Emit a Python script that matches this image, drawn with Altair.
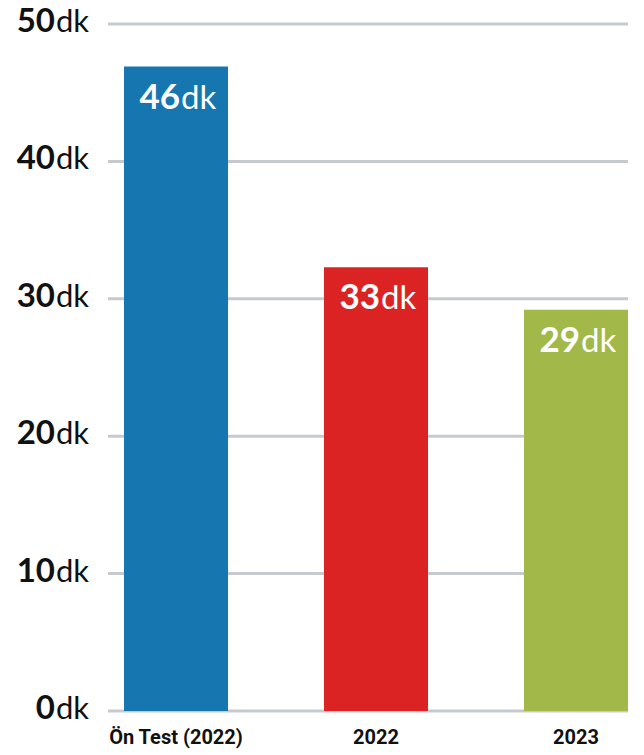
import altair as alt
import pandas as pd

categories = ["Ön Test (2022)", "2022", "2023"]
values = [46.9, 32.3, 29.2]
labels = ["46", "33", "29"]
colors = ["#1576b0", "#dc2324", "#a2b94a"]
ticks = [0, 10, 20, 30, 40, 50]
unit = "dk"

df = pd.DataFrame({"cat": categories, "val": values, "lab": labels, "color": colors, "unit": [unit] * 3})
tick_df = pd.DataFrame({"t": ticks, "num": [str(t) for t in ticks], "unit": [unit] * len(ticks)})

W, H = 504, 687
yscale = alt.Scale(domain=[0, 50], nice=False)
xenc = alt.X("cat:N", sort=categories,
             scale=alt.Scale(paddingInner=0.48, paddingOuter=0),
             axis=alt.Axis(title=None, labelAngle=0, domain=False, ticks=False, grid=False,
                           labelFont="Roboto", labelFontWeight="bold", labelFontSize=20,
                           labelColor="#111111", labelPadding=16))

grid = alt.Chart(tick_df).mark_rule(color="#c6cacf", strokeWidth=3).encode(
    y=alt.Y("t:Q", scale=yscale, axis=None),
    x=alt.value(-16), x2=alt.value(W))

bars = alt.Chart(df).mark_bar().encode(
    x=xenc,
    y=alt.Y("val:Q", scale=yscale, axis=None),
    color=alt.Color("color:N", scale=None))

bar_num = alt.Chart(df).mark_text(align="right", baseline="alphabetic", dx=4, dy=42,
                                  font="Lato", fontWeight="bold", fontSize=35, color="white").encode(
    x=xenc, y=alt.Y("val:Q", scale=yscale), text="lab:N")
bar_unit = alt.Chart(df).mark_text(align="left", baseline="alphabetic", dx=5, dy=42,
                                   font="Lato", fontWeight="normal", fontSize=33, color="white").encode(
    x=xenc, y=alt.Y("val:Q", scale=yscale), text="unit:N")

tick_num = alt.Chart(tick_df).mark_text(align="right", baseline="alphabetic", dy=8,
                                        font="Lato", fontWeight="bold", fontSize=33, color="#111111").encode(
    x=alt.value(-69), y=alt.Y("t:Q", scale=yscale), text="num:N")
tick_unit = alt.Chart(tick_df).mark_text(align="left", baseline="alphabetic", dy=8,
                                         font="Lato", fontWeight="normal", fontSize=31, color="#111111").encode(
    x=alt.value(-68), y=alt.Y("t:Q", scale=yscale), text="unit:N")

chart = alt.layer(grid, bars, bar_num, bar_unit, tick_num, tick_unit).properties(
    width=W, height=H,
    autosize=alt.AutoSizeParams(type="none"),
    padding={"left": 116, "top": 16, "right": 8, "bottom": 42},
).configure_view(stroke=None)

chart.save("out.html", embed_options={"renderer": "svg", "actions": False})
